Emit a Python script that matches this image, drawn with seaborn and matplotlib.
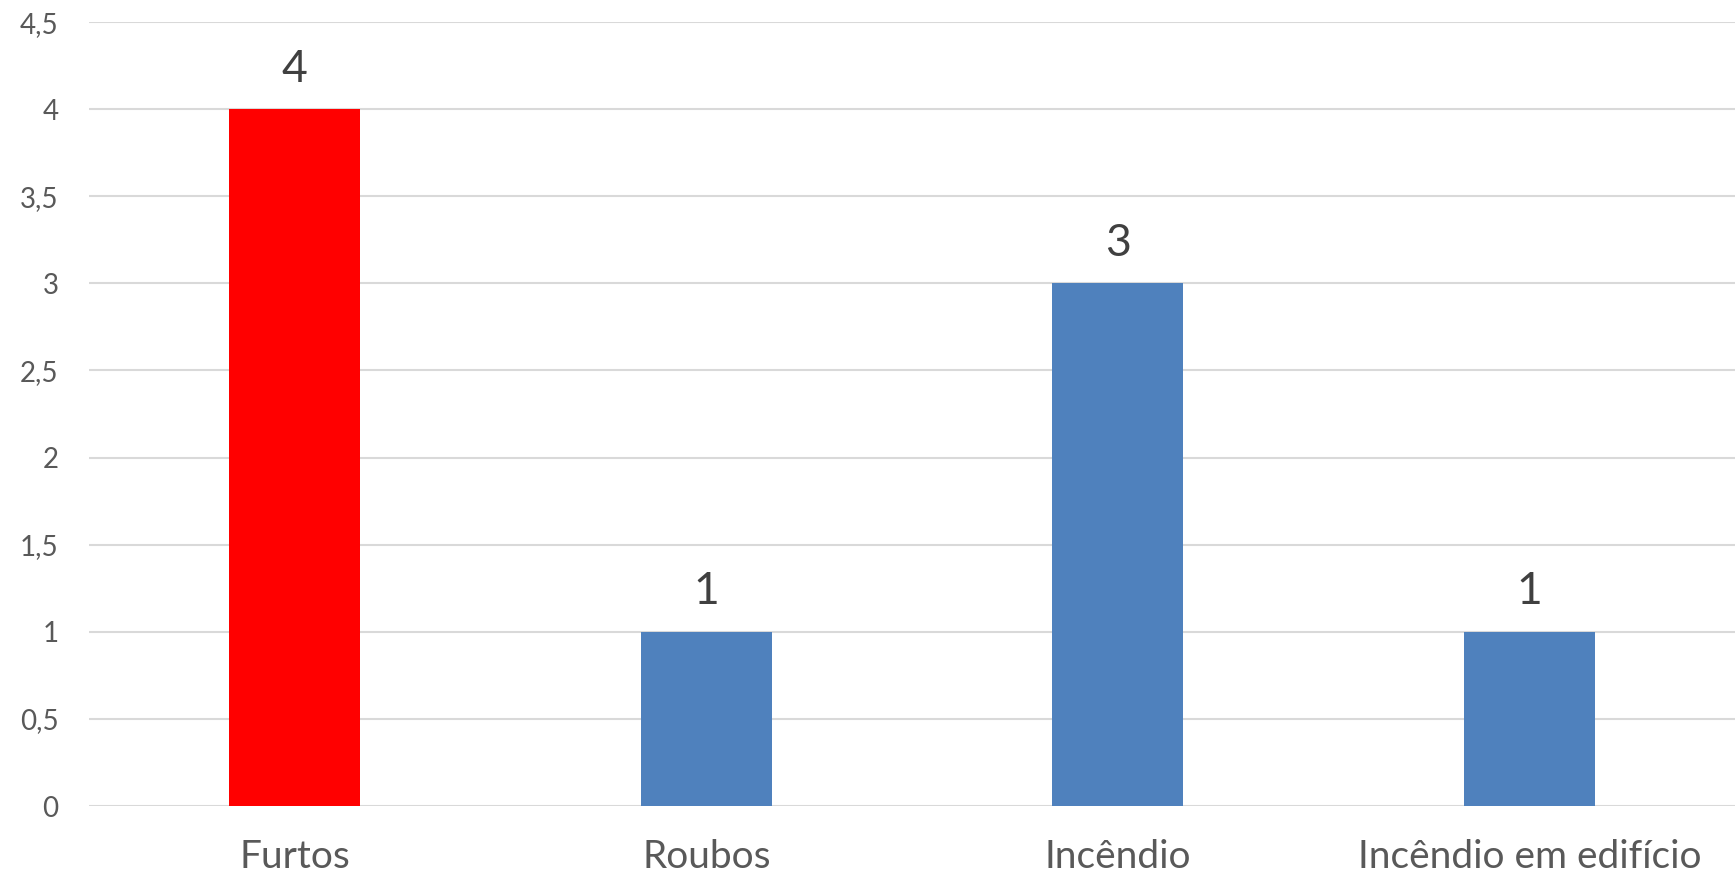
import pandas as pd
import numpy as np
import matplotlib
matplotlib.use('Agg')
import matplotlib.pyplot as plt
from matplotlib.ticker import FuncFormatter, MultipleLocator
import seaborn as sns

categorias = ['Furtos', 'Roubos', 'Incêndio', 'Incêndio em edifício']
valores = [4, 1, 3, 1]
cores = ['#FF0000', '#4F81BD', '#4F81BD', '#4F81BD']

sns.set_style('white')
plt.rcParams['font.family'] = ['Lato', 'DejaVu Sans']

df = pd.DataFrame({'categoria': categorias, 'valor': valores})

fig = plt.figure(figsize=(17.35, 8.83), dpi=100)
ax = fig.add_axes([0.0513, 0.0872, 0.9487, 0.8878])

sns.barplot(data=df, x='categoria', y='valor', hue='categoria',
            palette=cores, width=0.318, legend=False, ax=ax, saturation=1,
            linewidth=0)

ax.set_ylim(0, 4.5)
ax.yaxis.set_major_locator(MultipleLocator(0.5))
ax.yaxis.set_major_formatter(FuncFormatter(lambda v, p: ('%g' % v).replace('.', ',')))
ax.grid(axis='y', color='#D9D9D9', linewidth=1.5)
ax.set_axisbelow(True)
for s in ax.spines.values():
    s.set_visible(False)

ax.tick_params(axis='y', length=0, pad=22, labelsize=20, labelcolor='#595959')
ax.tick_params(axis='x', length=0, pad=24, labelsize=28, labelcolor='#595959')
ax.set_xlabel('')
ax.set_ylabel('')

for c in ax.containers:
    ax.bar_label(c, labels=[str(v) for v in valores] if len(c) == 4 else None,
                 padding=14, fontsize=32, color='#404040')

fig.savefig('out.png', dpi=100)
